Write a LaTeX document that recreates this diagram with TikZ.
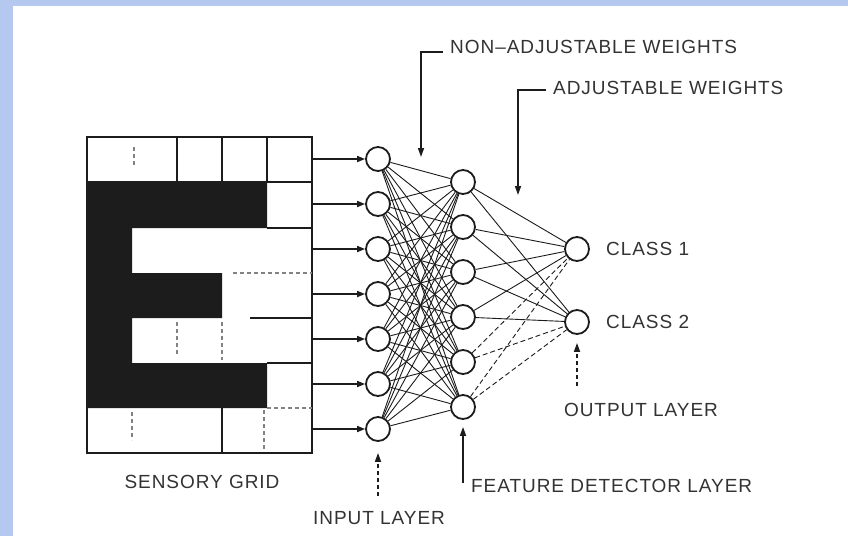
\documentclass[tikz,border=0pt]{standalone}
\usepackage{fontspec}
\setmainfont{Liberation Sans}
\newfontfamily\lblfont[LetterSpace=5]{Liberation Sans}
\usetikzlibrary{arrows.meta}
\definecolor{bandblue}{RGB}{180,200,240}
\definecolor{ink}{RGB}{28,28,28}
\begin{document}
\begin{tikzpicture}[x=1pt,y=-1pt,
  neuron/.style={circle,draw=ink,line width=1.8pt,minimum size=24pt,inner sep=0pt,fill=white},
  lbl/.style={font=\lblfont\fontsize{19}{22}\selectfont,text=ink!90,inner sep=0pt},
  wire/.style={draw=ink,line width=0.9pt},
  feed/.style={draw=ink,line width=1.6pt,-{Triangle[length=8pt,width=6pt]}},
  pointer/.style={draw=ink,line width=1.6pt,-{Triangle[length=9pt,width=6pt]}},
  gridline/.style={draw=ink,line width=2pt},
  faint/.style={draw=ink!55,line width=1.2pt,dash pattern=on 4pt off 3pt},
]
% page and blue band
\useasboundingbox (0,0) rectangle (848,536);
\fill[white] (0,0) rectangle (848,536);
\fill[bandblue] (0,0) rectangle (13,536);
\fill[bandblue] (0,0) rectangle (848,6);

% sensory grid with the letter E
\fill[ink] (87,182) -- (267,182) -- (267,228) -- (132,228) -- (132,273) -- (222,273)
  -- (222,318) -- (132,318) -- (132,363) -- (267,363) -- (267,408) -- (87,408) -- cycle;
\draw[gridline] (87,137) rectangle (312,453);
\draw[gridline] (87,182) -- (312,182);
\draw[gridline] (177,137) -- (177,182) (222,137) -- (222,182) (267,137) -- (267,182);
\draw[gridline] (267,228) -- (312,228);
\draw[faint] (233,273) -- (312,273);
\draw[gridline] (250,318) -- (312,318);
\draw[gridline] (267,363) -- (312,363);
\draw[faint] (267,408) -- (312,408);
\draw[gridline] (222,408) -- (222,453);
\draw[faint] (264,410) -- (264,450);
\draw[faint] (132,412) -- (132,440);
\draw[faint] (134,147) -- (134,167);
\draw[faint] (177,322) -- (177,356);
\draw[faint] (222,322) -- (222,360);

% layers
\foreach \i in {1,...,7}
  \node[neuron] (in\i) at (378,{159+45*(\i-1)}) {};
\foreach \j in {1,...,6}
  \node[neuron] (fd\j) at (463,{182+45*(\j-1)}) {};
\node[neuron] (c1) at (577,249) {};
\node[neuron] (c2) at (577,322) {};

% grid outputs to input layer
\foreach \i in {1,...,7} {
  \coordinate (g\i) at (313,{159+45*(\i-1)});
  \draw[feed] (g\i) -- (in\i);
}

% connections
\foreach \i in {1,...,7}
  \foreach \j in {1,...,6}
    \draw[wire] (in\i) -- (fd\j);
\foreach \j in {1,...,4}
  \draw[wire] (fd\j) -- (c1) (fd\j) -- (c2);
\foreach \j in {5,6}
  \draw[wire,dash pattern=on 5pt off 3pt] (fd\j) -- (c1) (fd\j) -- (c2);

% weight labels
\node[lbl,anchor=west] (nadj) at (450,47) {NON–ADJUSTABLE WEIGHTS};
\node[lbl,anchor=west] (adj) at (553,88) {ADJUSTABLE WEIGHTS};
\coordinate (naStart) at (443,52);
\coordinate (naTip) at (421,157);
\coordinate (aStart) at (546,90);
\coordinate (aTip) at (518,195);
\draw[pointer] (naStart) -| (naTip);
\draw[pointer] (aStart) -| (aTip);

% layer labels
\node[lbl] (sg) at (202,482) {SENSORY GRID};
\node[lbl] (il) at (379,518) {INPUT LAYER};
\node[lbl,anchor=west] (fdl) at (471,486) {FEATURE DETECTOR LAYER};
\node[lbl] (ol) at (641,410) {OUTPUT LAYER};
\node[lbl,anchor=west] (cl1) at (606,249) {CLASS 1};
\node[lbl,anchor=west] (cl2) at (606,322) {CLASS 2};

\coordinate (ilBase) at (378,496);
\coordinate (fdBase) at (463,483);
\coordinate (olBase) at (577,386);
\draw[pointer,dash pattern=on 4pt off 3pt] (ilBase) -- ([yshift=-11pt]in7.south);
\draw[pointer] (fdBase) -- ([yshift=-7pt]fd6.south);
\draw[pointer,dash pattern=on 4pt off 3pt] (olBase) -- ([yshift=-8pt]c2.south);
\end{tikzpicture}
\end{document}
